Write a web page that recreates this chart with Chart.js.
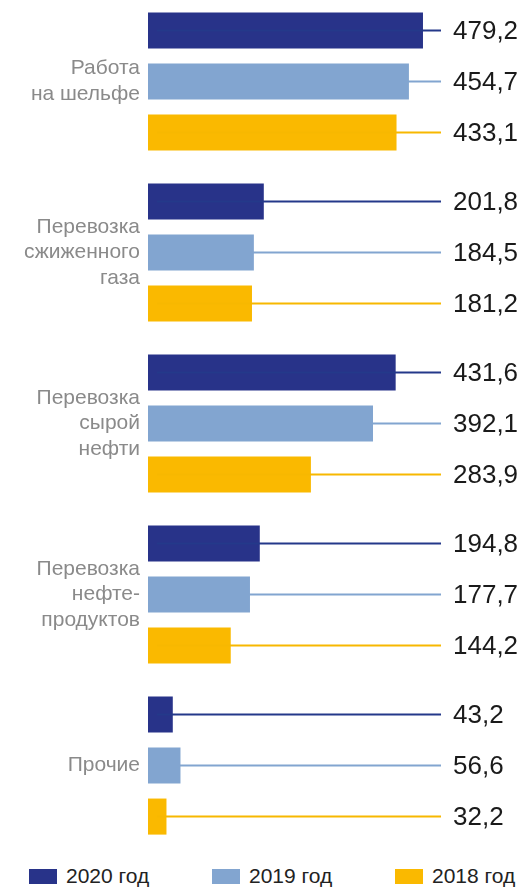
<!DOCTYPE html>
<html>
<head>
<meta charset="utf-8">
<script src="https://cdn.jsdelivr.net/npm/chart.js@4"></script>
<style>
  html, body { margin: 0; padding: 0; background: #fff; }
  #wrap { position: relative; width: 522px; height: 887px; overflow: hidden; }
  #myChart { position: absolute; left: 0; top: -4px; }
  #legend { position: absolute; left: 29px; top: 864px; display: flex;
            font-family: "Liberation Sans", Arial, sans-serif; font-size: 21px; color: #222; }
  .item { display: flex; align-items: center; width: 183px; }
  .item span.box { display: inline-block; width: 28px; height: 15px; margin-right: 9px; }
</style>
</head>
<body>
<div id="wrap">
  <canvas id="myChart" width="522" height="855"></canvas>
  <div id="legend"></div>
</div>
<script>
// setup
const categories = [
    ['Работа', 'на шельфе'],
    ['Перевозка', 'сжиженного', 'газа'],
    ['Перевозка', 'сырой', 'нефти'],
    ['Перевозка', 'нефте-', 'продуктов'],
    ['Прочие']
]
const years = ['2020 год', '2019 год', '2018 год']
const values2020 = [479.2, 201.8, 431.6, 194.8, 43.2]
const values2019 = [454.7, 184.5, 392.1, 177.7, 56.6]
const values2018 = [433.1, 181.2, 283.9, 144.2, 32.2]

const barColors = ['#283389', '#82a5d0', '#fab900']
const lineColors = ['#24398a', '#82a5d0', '#f7b800']

// leader lines + value labels
const valueLabels = {
    id: 'valueLabels',
    afterDatasetsDraw(chart) {
        const ctx = chart.ctx
        const area = chart.chartArea
        ctx.save()
        chart.data.datasets.forEach((ds, i) => {
            const meta = chart.getDatasetMeta(i)
            meta.data.forEach((bar, j) => {
                const y = bar.y
                ctx.strokeStyle = lineColors[i]
                ctx.lineWidth = 2
                ctx.beginPath()
                ctx.moveTo(bar.base + 9, y)
                ctx.lineTo(area.right, y)
                ctx.stroke()

                ctx.fillStyle = '#1a1a1a'
                ctx.font = '26px "Liberation Sans", Arial, sans-serif'
                ctx.textAlign = 'left'
                ctx.textBaseline = 'middle'
                ctx.fillText(ds.data[j].toFixed(1).replace('.', ','), area.right + 12, y + 1)
            })
        })
        ctx.restore()
    }
}

const data = {
    labels: categories,
    datasets: [{
        label: years[0],
        data: values2020,
        backgroundColor: barColors[0]
    }, {
        label: years[1],
        data: values2019,
        backgroundColor: barColors[1]
    }, {
        label: years[2],
        data: values2018,
        backgroundColor: barColors[2]
    }]
}

// config
const config = {
    type: 'bar',
    data,
    options: {
        indexAxis: 'y',
        responsive: false,
        animation: false,
        categoryPercentage: 0.896,
        barPercentage: 0.706,
        layout: {
            padding: { left: 0, right: 81, top: 0, bottom: 0 }
        },
        plugins: {
            legend: { display: false },
            tooltip: { enabled: false }
        },
        scales: {
            x: {
                display: false,
                min: 0,
                max: 510.6
            },
            y: {
                grid: { display: false, drawTicks: false },
                border: { display: false },
                afterFit: (scale) => {
                    // labels sit at band centres, no need for extra room top/bottom
                    scale.width = 148
                    scale.paddingTop = 0
                    scale.paddingBottom = 0
                },
                ticks: {
                    padding: 8,
                    color: '#8a8a8a',
                    font: { family: '"Liberation Sans", Arial, sans-serif', size: 21, lineHeight: 1.22 }
                }
            }
        }
    },
    plugins: [valueLabels]
}

// render init block
const myChart = new Chart(
    document.getElementById('myChart'),
    config
)

// legend
const legend = document.getElementById('legend')
years.forEach((year, i) => {
    const item = document.createElement('div')
    item.className = 'item'
    const box = document.createElement('span')
    box.className = 'box'
    box.style.background = barColors[i]
    item.appendChild(box)
    item.appendChild(document.createTextNode(year))
    legend.appendChild(item)
})
</script>
</body>
</html>
